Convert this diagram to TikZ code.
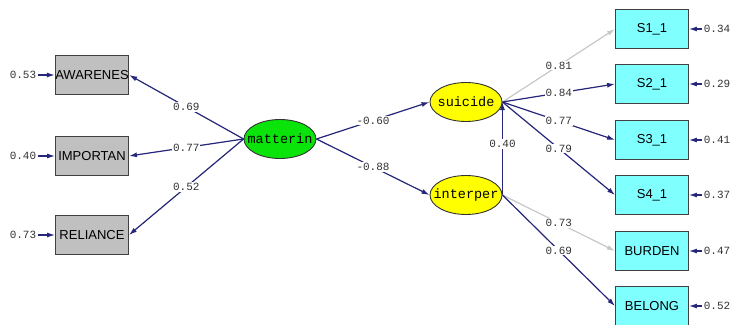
\documentclass[tikz,border=0pt]{standalone}
\usepackage{fontspec}
\setsansfont{Liberation Sans}
\setmonofont{Liberation Mono}
\usetikzlibrary{shapes.geometric,arrows.meta}
\definecolor{pathblue}{RGB}{38,38,122}
\definecolor{pathgray}{RGB}{200,200,200}
\definecolor{boxgray}{RGB}{192,192,192}
\definecolor{boxcyan}{RGB}{128,255,255}
\definecolor{latgreen}{RGB}{10,228,10}
\definecolor{latyellow}{RGB}{255,255,0}
\tikzset{arrow/.style={-{Latex[length=8pt,width=5pt]}, draw=pathblue, fill=pathblue, line width=1.2pt}}
\tikzset{gray-arrow/.style={-{Latex[length=8pt,width=5pt]}, draw=pathgray, fill=pathgray, line width=1.2pt}}
\tikzset{obs/.style={draw=black!75, line width=0.9pt, rectangle, minimum width=73pt, minimum height=39pt, inner sep=0pt, font=\sffamily\fontsize{13}{13}\selectfont}}
\tikzset{lat/.style={draw=black!80, line width=0.9pt, ellipse, minimum width=72pt, minimum height=39pt, inner sep=0pt, font=\ttfamily\fontsize{13.5}{13.5}\selectfont}}
\tikzset{coef/.style={fill=white, inner sep=1pt, font=\ttfamily\fontsize{11}{11}\selectfont, text=black!80}}
\tikzset{err/.style={inner sep=1.5pt, font=\ttfamily\fontsize{11}{11}\selectfont, text=black!80}}

\begin{document}
\begin{tikzpicture}[x=1pt, y=-1pt]
      \useasboundingbox (0,0) rectangle (735,324);

      % observed variables, left
      \node[obs, fill=boxgray] (AW) at (92, 75) {AWARENES};
      \node[obs, fill=boxgray] (IM) at (92, 156) {IMPORTAN};
      \node[obs, fill=boxgray] (RE) at (92, 235) {RELIANCE};

      % latent variables
      \node[lat, fill=latgreen] (mat) at (280, 139) {\makebox[0pt]{matterin}};
      \node[lat, fill=latyellow] (sui) at (466, 102) {\makebox[0pt]{suicide}};
      \node[lat, fill=latyellow] (int) at (466, 195) {\makebox[0pt]{interper}};

      % observed variables, right
      \node[obs, fill=boxcyan] (S1) at (652, 29) {S1\_1};
      \node[obs, fill=boxcyan] (S2) at (652, 84) {S2\_1};
      \node[obs, fill=boxcyan] (S3) at (652, 140) {S3\_1};
      \node[obs, fill=boxcyan] (S4) at (652, 195) {S4\_1};
      \node[obs, fill=boxcyan] (BU) at (652, 251) {BURDEN};
      \node[obs, fill=boxcyan] (BE) at (652, 306) {BELONG};

      % error variances
      \node[err] (eAW) at (23, 75) {0.53};
      \node[err] (eIM) at (23, 156) {0.40};
      \node[err] (eRE) at (23, 235) {0.73};
      \node[err] (eS1) at (717, 29) {0.34};
      \node[err] (eS2) at (717, 84) {0.29};
      \node[err] (eS3) at (717, 140) {0.41};
      \node[err] (eS4) at (717, 195) {0.37};
      \node[err] (eBU) at (717, 251) {0.47};
      \node[err] (eBE) at (717, 306) {0.52};

      \draw[arrow] (eAW) -- (AW);
      \draw[arrow] (eIM) -- (IM);
      \draw[arrow] (eRE) -- (RE);
      \draw[arrow] (eS1) -- (S1);
      \draw[arrow] (eS2) -- (S2);
      \draw[arrow] (eS3) -- (S3);
      \draw[arrow] (eS4) -- (S4);
      \draw[arrow] (eBU) -- (BU);
      \draw[arrow] (eBE) -- (BE);

      % loadings and paths
      \draw[arrow] (mat.west) -- node[coef] (cAW) {0.69} (AW.east);
      \draw[arrow] (mat.west) -- node[coef] (cIM) {0.77} (IM.east);
      \draw[arrow] (mat.west) -- node[coef] (cRE) {0.52} (RE.east);
      \draw[arrow] (mat.east) -- node[coef] (cSu) {-0.60} (sui.west);
      \draw[arrow] (mat.east) -- node[coef] (cIn) {-0.88} (int.west);
      \draw[arrow] (int.east) -- node[coef, pos=0.55] (cIS) {0.40} (sui.east);
      \draw[gray-arrow] (sui.east) -- node[coef] (cS1) {0.81} (S1.west);
      \draw[arrow] (sui.east) -- node[coef] (cS2) {0.84} (S2.west);
      \draw[arrow] (sui.east) -- node[coef] (cS3) {0.77} (S3.west);
      \draw[arrow] (sui.east) -- node[coef] (cS4) {0.79} (S4.west);
      \draw[gray-arrow] (int.east) -- node[coef] (cBU) {0.73} (BU.west);
      \draw[arrow] (int.east) -- node[coef] (cBE) {0.69} (BE.west);
    \end{tikzpicture}
\end{document}
